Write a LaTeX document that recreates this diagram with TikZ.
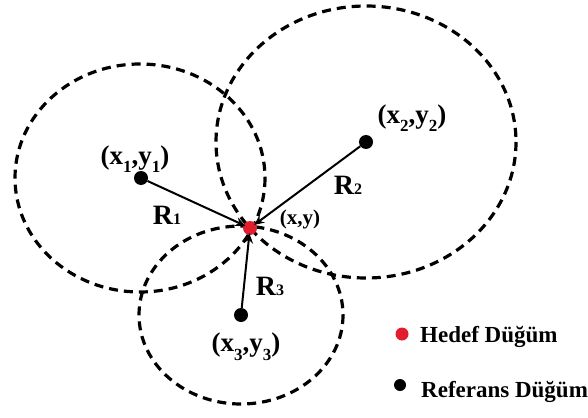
\documentclass[tikz,border=0pt]{standalone}
\usepackage{fontspec}
\setmainfont{Liberation Serif}
\usetikzlibrary{arrows.meta}
\definecolor{hedef}{RGB}{225,30,45}
\newcommand{\sbs}[1]{\raisebox{-0.32em}{\fontsize{17}{17}\selectfont #1}}
\newcommand{\rsub}[1]{{\fontsize{16}{16}\selectfont #1}}
\tikzset{
  rangecircle/.style={draw=black, line width=3.2pt, dash pattern=on 9pt off 6pt},
  refdot/.style={circle, fill=black, inner sep=0pt, minimum size=14pt},
  tgtdot/.style={circle, fill=hedef, inner sep=0pt, minimum size=14pt},
  dist/.style={draw=black, line width=2pt, -{Stealth[length=10pt,width=9pt]}, shorten >=-2pt},
  coordlbl/.style={font=\fontsize{27}{27}\selectfont\bfseries, inner sep=0pt},
  rlbl/.style={font=\fontsize{28}{28}\selectfont\bfseries, inner sep=0pt},
  leglbl/.style={font=\fontsize{23}{23}\selectfont\bfseries, inner sep=0pt, anchor=base west},
}
\begin{document}
\begin{tikzpicture}[x=1pt,y=-1pt]
\useasboundingbox (0,0) rectangle (588,417);
% range circles
\draw[rangecircle] (140,178) ellipse [x radius=125, y radius=114];
\draw[rangecircle] (366,142) ellipse [x radius=150, y radius=136];
\draw[rangecircle] (241,315) ellipse [x radius=102, y radius=89];
% nodes
\node[refdot] (p1) at (141,178) {};
\node[refdot] (p2) at (366,142) {};
\node[refdot] (p3) at (241,315) {};
\node[tgtdot] (t) at (250,228) {};
% distances
\draw[dist] (p1) -- (t);
\draw[dist] (p2) -- (t);
\draw[dist] (p3) -- (t);
% labels
\node[coordlbl] (l1) at (135,159) {(x\sbs{1},y\sbs{1})};
\node[coordlbl] (l2) at (412,118) {(x\sbs{2},y\sbs{2})};
\node[coordlbl] (l3) at (246,347) {(x\sbs{3},y\sbs{3})};
\node[font=\fontsize{21}{21}\selectfont\bfseries, inner sep=0pt] (lt) at (300,219) {(x,y)};
\node[rlbl] (r1) at (167,215) {R\rsub{1}};
\node[rlbl] (r2) at (348,185) {R\rsub{2}};
\node[rlbl] (r3) at (270,286) {R\rsub{3}};
% legend
\node[tgtdot, minimum size=13pt] (lgt) at (402,334) {};
\node[leglbl] (lgtt) at (420,342) {Hedef Düğüm};
\node[refdot, minimum size=12pt] (lgr) at (400,385) {};
\node[leglbl] (lgrt) at (421,397) {Referans Düğüm};
\end{tikzpicture}
\end{document}
